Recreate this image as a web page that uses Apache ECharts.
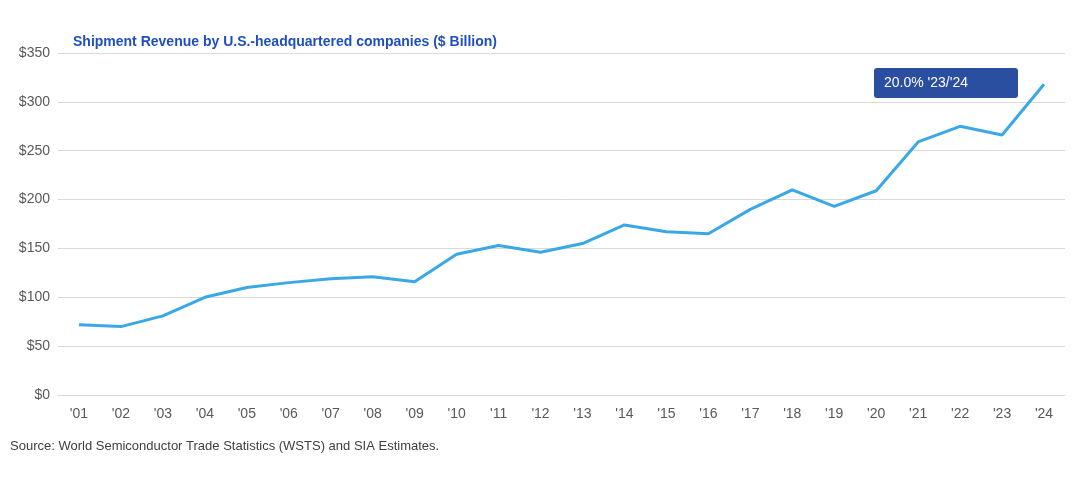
<html>
<head>
<meta charset="UTF-8">
<script src="https://cdn.jsdelivr.net/npm/echarts@6/dist/echarts.min.js"></script>
</head>
<body style="margin:0">
<div id="chart" style="width:1080px;height:480px"></div>
<script>
var years = ["'01","'02","'03","'04","'05","'06","'07","'08","'09","'10","'11","'12","'13","'14","'15","'16","'17","'18","'19","'20","'21","'22","'23","'24"];
var revenue = [72,70,81,100,110,115,119,121,116,144,153,146,155,174,167,165,190,210,193,209,259,275,266,318];

var chart = echarts.init(document.getElementById('chart'));
chart.setOption({
    animation: false,
    title: {
        text: 'Shipment Revenue by U.S.-headquartered companies ($ Billion)',
        left: 68, top: 30,
        textStyle: {color: '#1f4fbf', fontSize: 14, fontWeight: 'bold', fontFamily: 'Liberation Sans'}
    },
    grid: {left: 58, right: 15, top: 53, bottom: 85},
    xAxis: {
        type: 'category',
        data: years,
        axisLine: {lineStyle: {color: '#d9d9d9'}},
        axisTick: {show: false},
        axisLabel: {color: '#595959', fontSize: 14, margin: 12, fontFamily: 'Liberation Sans'}
    },
    yAxis: {
        type: 'value',
        min: 0, max: 350, interval: 50,
        axisLabel: {color: '#595959', fontSize: 14, formatter: '${value}', fontFamily: 'Liberation Sans'},
        splitLine: {lineStyle: {color: '#d9d9d9'}}
    },
    series: [{
        type: 'line',
        data: revenue,
        symbol: 'none',
        lineStyle: {color: '#3aa8e6', width: 3}
    }],
    graphic: [
        {type: 'text', left: 10, top: 440,
         style: {text: 'Source: World Semiconductor Trade Statistics (WSTS) and SIA Estimates.', fill: '#404040', font: '13px Liberation Sans'}},
        {type: 'rect', left: 874, top: 68, shape: {width: 144, height: 30, r: 3}, style: {fill: '#2a4ea0'}},
        {type: 'text', left: 884, top: 76, style: {text: "20.0% '23/'24", fill: '#fff', font: '14px Liberation Sans'}}
    ]
});
</script>
</body>
</html>
